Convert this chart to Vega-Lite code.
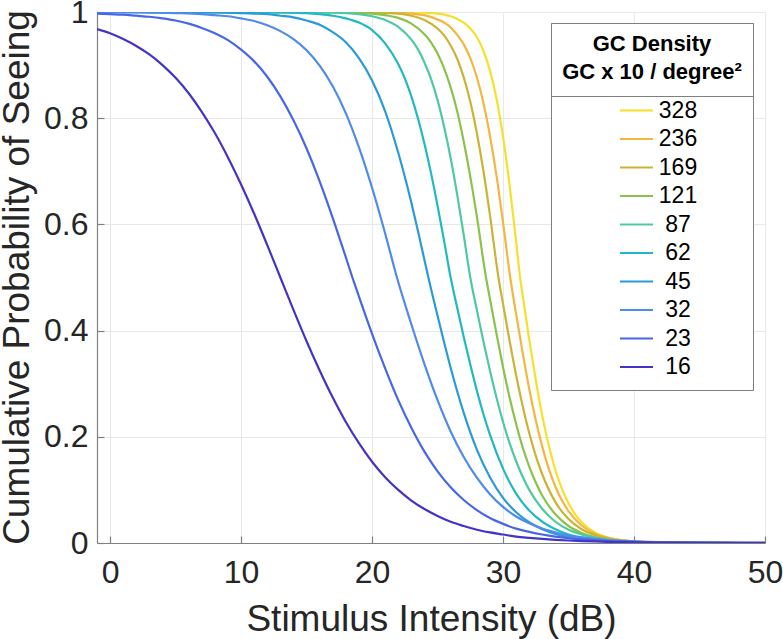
{
  "$schema": "https://vega.github.io/schema/vega-lite/v6.json",
  "width": 668,
  "height": 531,
  "autosize": {"type": "none"},
  "padding": {"left": 97, "top": 12, "right": 18, "bottom": 96},
  "background": "white",
  "config": {"view": {"stroke": null}, "font": "Liberation Sans"},
  "datasets": {
    "curves": [
      {"d":"328","x":-1,"p":1},{"d":"328","x":20,"p":1},{"d":"328","x":22,"p":0.9998},{"d":"328","x":23,"p":0.9995},{"d":"328","x":24,"p":0.9987},{"d":"328","x":25,"p":0.997},{"d":"328","x":26,"p":0.992},{"d":"328","x":26.5,"p":0.987},{"d":"328","x":27,"p":0.980},{"d":"328","x":27.5,"p":0.969},{"d":"328","x":28,"p":0.953},{"d":"328","x":28.5,"p":0.927},{"d":"328","x":29,"p":0.890},{"d":"328","x":29.5,"p":0.837},{"d":"328","x":30,"p":0.765},{"d":"328","x":30.5,"p":0.674},{"d":"328","x":31,"p":0.568},{"d":"328","x":31.3,"p":0.5},{"d":"328","x":31.5,"p":0.466},{"d":"328","x":32,"p":0.383},{"d":"328","x":32.5,"p":0.307},{"d":"328","x":33,"p":0.239},{"d":"328","x":33.5,"p":0.183},{"d":"328","x":34,"p":0.137},{"d":"328","x":34.5,"p":0.102},{"d":"328","x":35,"p":0.075},{"d":"328","x":35.5,"p":0.054},{"d":"328","x":36,"p":0.039},{"d":"328","x":37,"p":0.020},{"d":"328","x":38,"p":0.010},{"d":"328","x":39,"p":0.0053},{"d":"328","x":40,"p":0.0027},{"d":"328","x":42,"p":0.0007},{"d":"328","x":45,"p":0.0001},{"d":"328","x":50,"p":0},

      {"d":"236","x":-1,"p":1},{"d":"236","x":20,"p":0.9997},{"d":"236","x":21,"p":0.9994},{"d":"236","x":22,"p":0.9986},{"d":"236","x":23,"p":0.997},{"d":"236","x":24,"p":0.994},{"d":"236","x":25,"p":0.986},{"d":"236","x":26,"p":0.971},{"d":"236","x":26.5,"p":0.957},{"d":"236","x":27,"p":0.939},{"d":"236","x":27.5,"p":0.913},{"d":"236","x":28,"p":0.877},{"d":"236","x":28.5,"p":0.829},{"d":"236","x":29,"p":0.767},{"d":"236","x":29.5,"p":0.692},{"d":"236","x":30,"p":0.604},{"d":"236","x":30.55,"p":0.5},{"d":"236","x":31,"p":0.431},{"d":"236","x":31.5,"p":0.358},{"d":"236","x":32,"p":0.290},{"d":"236","x":32.5,"p":0.231},{"d":"236","x":33,"p":0.181},{"d":"236","x":33.5,"p":0.139},{"d":"236","x":34,"p":0.106},{"d":"236","x":34.5,"p":0.080},{"d":"236","x":35,"p":0.060},{"d":"236","x":36,"p":0.033},{"d":"236","x":37,"p":0.018},{"d":"236","x":38,"p":0.010},{"d":"236","x":39,"p":0.0054},{"d":"236","x":40,"p":0.0029},{"d":"236","x":42,"p":0.0009},{"d":"236","x":45,"p":0.0001},{"d":"236","x":50,"p":0},

      {"d":"169","x":-1,"p":1},{"d":"169","x":19,"p":0.9996},{"d":"169","x":20,"p":0.9992},{"d":"169","x":21,"p":0.998},{"d":"169","x":22,"p":0.997},{"d":"169","x":23,"p":0.993},{"d":"169","x":24,"p":0.985},{"d":"169","x":25,"p":0.969},{"d":"169","x":25.5,"p":0.956},{"d":"169","x":26,"p":0.937},{"d":"169","x":26.5,"p":0.912},{"d":"169","x":27,"p":0.877},{"d":"169","x":27.5,"p":0.831},{"d":"169","x":28,"p":0.772},{"d":"169","x":28.5,"p":0.701},{"d":"169","x":29,"p":0.618},{"d":"169","x":29.65,"p":0.5},{"d":"169","x":30,"p":0.450},{"d":"169","x":30.5,"p":0.381},{"d":"169","x":31,"p":0.316},{"d":"169","x":31.5,"p":0.258},{"d":"169","x":32,"p":0.207},{"d":"169","x":32.5,"p":0.164},{"d":"169","x":33,"p":0.129},{"d":"169","x":34,"p":0.077},{"d":"169","x":35,"p":0.045},{"d":"169","x":36,"p":0.026},{"d":"169","x":37,"p":0.015},{"d":"169","x":38,"p":0.0085},{"d":"169","x":39,"p":0.0048},{"d":"169","x":40,"p":0.0027},{"d":"169","x":42,"p":0.0009},{"d":"169","x":45,"p":0.0002},{"d":"169","x":50,"p":0},

      {"d":"121","x":-1,"p":1},{"d":"121","x":17,"p":0.9996},{"d":"121","x":19,"p":0.998},{"d":"121","x":20,"p":0.997},{"d":"121","x":21,"p":0.994},{"d":"121","x":22,"p":0.989},{"d":"121","x":23,"p":0.978},{"d":"121","x":24,"p":0.958},{"d":"121","x":24.5,"p":0.943},{"d":"121","x":25,"p":0.922},{"d":"121","x":25.5,"p":0.894},{"d":"121","x":26,"p":0.858},{"d":"121","x":26.5,"p":0.813},{"d":"121","x":27,"p":0.756},{"d":"121","x":27.5,"p":0.690},{"d":"121","x":28,"p":0.615},{"d":"121","x":28.7,"p":0.5},{"d":"121","x":29,"p":0.460},{"d":"121","x":29.5,"p":0.394},{"d":"121","x":30,"p":0.331},{"d":"121","x":30.5,"p":0.274},{"d":"121","x":31,"p":0.224},{"d":"121","x":31.5,"p":0.180},{"d":"121","x":32,"p":0.144},{"d":"121","x":32.5,"p":0.114},{"d":"121","x":33,"p":0.089},{"d":"121","x":34,"p":0.054},{"d":"121","x":35,"p":0.032},{"d":"121","x":36,"p":0.019},{"d":"121","x":37,"p":0.011},{"d":"121","x":38,"p":0.0066},{"d":"121","x":39,"p":0.0038},{"d":"121","x":40,"p":0.0022},{"d":"121","x":42,"p":0.0008},{"d":"121","x":45,"p":0.0001},{"d":"121","x":50,"p":0},

      {"d":"87","x":-1,"p":1},{"d":"87","x":15,"p":0.9997},{"d":"87","x":17,"p":0.9989},{"d":"87","x":18,"p":0.998},{"d":"87","x":19,"p":0.996},{"d":"87","x":20,"p":0.992},{"d":"87","x":21,"p":0.985},{"d":"87","x":22,"p":0.972},{"d":"87","x":23,"p":0.948},{"d":"87","x":23.5,"p":0.930},{"d":"87","x":24,"p":0.905},{"d":"87","x":24.5,"p":0.874},{"d":"87","x":25,"p":0.834},{"d":"87","x":25.5,"p":0.784},{"d":"87","x":26,"p":0.725},{"d":"87","x":26.5,"p":0.656},{"d":"87","x":27,"p":0.580},{"d":"87","x":27.5,"p":0.5},{"d":"87","x":28,"p":0.439},{"d":"87","x":28.5,"p":0.380},{"d":"87","x":29,"p":0.325},{"d":"87","x":29.5,"p":0.274},{"d":"87","x":30,"p":0.228},{"d":"87","x":30.5,"p":0.188},{"d":"87","x":31,"p":0.154},{"d":"87","x":32,"p":0.100},{"d":"87","x":33,"p":0.064},{"d":"87","x":34,"p":0.040},{"d":"87","x":35,"p":0.025},{"d":"87","x":36,"p":0.016},{"d":"87","x":37,"p":0.0097},{"d":"87","x":38,"p":0.0060},{"d":"87","x":39,"p":0.0037},{"d":"87","x":40,"p":0.0022},{"d":"87","x":42,"p":0.0008},{"d":"87","x":45,"p":0.0002},{"d":"87","x":50,"p":0},

      {"d":"62","x":-1,"p":1},{"d":"62","x":10,"p":0.9999},{"d":"62","x":13,"p":0.9993},{"d":"62","x":14,"p":0.9987},{"d":"62","x":15,"p":0.998},{"d":"62","x":16,"p":0.996},{"d":"62","x":17,"p":0.993},{"d":"62","x":18,"p":0.988},{"d":"62","x":19,"p":0.980},{"d":"62","x":20,"p":0.966},{"d":"62","x":21,"p":0.941},{"d":"62","x":22,"p":0.902},{"d":"62","x":22.5,"p":0.875},{"d":"62","x":23,"p":0.841},{"d":"62","x":23.5,"p":0.800},{"d":"62","x":24,"p":0.752},{"d":"62","x":24.5,"p":0.697},{"d":"62","x":25,"p":0.635},{"d":"62","x":25.5,"p":0.569},{"d":"62","x":26,"p":0.5},{"d":"62","x":26.5,"p":0.443},{"d":"62","x":27,"p":0.388},{"d":"62","x":27.5,"p":0.336},{"d":"62","x":28,"p":0.287},{"d":"62","x":28.5,"p":0.243},{"d":"62","x":29,"p":0.204},{"d":"62","x":30,"p":0.140},{"d":"62","x":31,"p":0.093},{"d":"62","x":32,"p":0.061},{"d":"62","x":33,"p":0.040},{"d":"62","x":34,"p":0.026},{"d":"62","x":35,"p":0.016},{"d":"62","x":36,"p":0.0105},{"d":"62","x":37,"p":0.0067},{"d":"62","x":38,"p":0.0043},{"d":"62","x":39,"p":0.0027},{"d":"62","x":40,"p":0.0017},{"d":"62","x":42,"p":0.0007},{"d":"62","x":45,"p":0.0002},{"d":"62","x":50,"p":0},

      {"d":"45","x":-1,"p":1},{"d":"45","x":5,"p":0.9998},{"d":"45","x":8,"p":0.9993},{"d":"45","x":10,"p":0.998},{"d":"45","x":11,"p":0.997},{"d":"45","x":12,"p":0.996},{"d":"45","x":13,"p":0.993},{"d":"45","x":14,"p":0.990},{"d":"45","x":15,"p":0.984},{"d":"45","x":16,"p":0.976},{"d":"45","x":17,"p":0.962},{"d":"45","x":18,"p":0.943},{"d":"45","x":19,"p":0.913},{"d":"45","x":20,"p":0.871},{"d":"45","x":21,"p":0.813},{"d":"45","x":22,"p":0.735},{"d":"45","x":23,"p":0.641},{"d":"45","x":23.5,"p":0.588},{"d":"45","x":24,"p":0.533},{"d":"45","x":24.3,"p":0.5},{"d":"45","x":25,"p":0.428},{"d":"45","x":25.5,"p":0.378},{"d":"45","x":26,"p":0.330},{"d":"45","x":27,"p":0.245},{"d":"45","x":28,"p":0.176},{"d":"45","x":29,"p":0.124},{"d":"45","x":30,"p":0.085},{"d":"45","x":31,"p":0.058},{"d":"45","x":32,"p":0.039},{"d":"45","x":33,"p":0.026},{"d":"45","x":34,"p":0.017},{"d":"45","x":35,"p":0.011},{"d":"45","x":36,"p":0.0076},{"d":"45","x":37,"p":0.0050},{"d":"45","x":38,"p":0.0033},{"d":"45","x":39,"p":0.0022},{"d":"45","x":40,"p":0.0014},{"d":"45","x":42,"p":0.0006},{"d":"45","x":45,"p":0.0002},{"d":"45","x":50,"p":0},

      {"d":"32","x":-1,"p":1},{"d":"32","x":2,"p":0.9994},{"d":"32","x":5,"p":0.998},{"d":"32","x":7,"p":0.996},{"d":"32","x":8,"p":0.994},{"d":"32","x":9,"p":0.992},{"d":"32","x":10,"p":0.988},{"d":"32","x":11,"p":0.983},{"d":"32","x":12,"p":0.975},{"d":"32","x":13,"p":0.964},{"d":"32","x":14,"p":0.949},{"d":"32","x":15,"p":0.928},{"d":"32","x":16,"p":0.899},{"d":"32","x":17,"p":0.860},{"d":"32","x":18,"p":0.809},{"d":"32","x":19,"p":0.745},{"d":"32","x":20,"p":0.669},{"d":"32","x":21,"p":0.583},{"d":"32","x":21.9,"p":0.5},{"d":"32","x":23,"p":0.412},{"d":"32","x":24,"p":0.337},{"d":"32","x":25,"p":0.269},{"d":"32","x":26,"p":0.210},{"d":"32","x":27,"p":0.162},{"d":"32","x":28,"p":0.123},{"d":"32","x":29,"p":0.092},{"d":"32","x":30,"p":0.068},{"d":"32","x":31,"p":0.050},{"d":"32","x":32,"p":0.037},{"d":"32","x":33,"p":0.027},{"d":"32","x":34,"p":0.020},{"d":"32","x":35,"p":0.014},{"d":"32","x":36,"p":0.0105},{"d":"32","x":37,"p":0.0077},{"d":"32","x":38,"p":0.0055},{"d":"32","x":39,"p":0.0040},{"d":"32","x":40,"p":0.0029},{"d":"32","x":42,"p":0.0015},{"d":"32","x":45,"p":0.0006},{"d":"32","x":50,"p":0.0001},

      {"d":"23","x":-1,"p":0.997},{"d":"23","x":0,"p":0.996},{"d":"23","x":1,"p":0.995},{"d":"23","x":2,"p":0.993},{"d":"23","x":3,"p":0.991},{"d":"23","x":4,"p":0.988},{"d":"23","x":5,"p":0.984},{"d":"23","x":6,"p":0.978},{"d":"23","x":7,"p":0.970},{"d":"23","x":8,"p":0.960},{"d":"23","x":9,"p":0.947},{"d":"23","x":10,"p":0.929},{"d":"23","x":11,"p":0.907},{"d":"23","x":12,"p":0.878},{"d":"23","x":13,"p":0.841},{"d":"23","x":14,"p":0.796},{"d":"23","x":15,"p":0.743},{"d":"23","x":16,"p":0.681},{"d":"23","x":17,"p":0.612},{"d":"23","x":18,"p":0.538},{"d":"23","x":18.5,"p":0.5},{"d":"23","x":19,"p":0.464},{"d":"23","x":20,"p":0.394},{"d":"23","x":21,"p":0.329},{"d":"23","x":22,"p":0.269},{"d":"23","x":23,"p":0.217},{"d":"23","x":24,"p":0.172},{"d":"23","x":25,"p":0.135},{"d":"23","x":26,"p":0.105},{"d":"23","x":27,"p":0.081},{"d":"23","x":28,"p":0.062},{"d":"23","x":29,"p":0.047},{"d":"23","x":30,"p":0.036},{"d":"23","x":31,"p":0.027},{"d":"23","x":32,"p":0.021},{"d":"23","x":33,"p":0.016},{"d":"23","x":34,"p":0.012},{"d":"23","x":35,"p":0.009},{"d":"23","x":36,"p":0.0067},{"d":"23","x":37,"p":0.0051},{"d":"23","x":38,"p":0.0038},{"d":"23","x":39,"p":0.0029},{"d":"23","x":40,"p":0.0021},{"d":"23","x":42,"p":0.0012},{"d":"23","x":45,"p":0.0005},{"d":"23","x":50,"p":0.0001},

      {"d":"16","x":-1,"p":0.968},{"d":"16","x":0,"p":0.960},{"d":"16","x":1,"p":0.949},{"d":"16","x":2,"p":0.936},{"d":"16","x":3,"p":0.920},{"d":"16","x":4,"p":0.900},{"d":"16","x":5,"p":0.876},{"d":"16","x":6,"p":0.847},{"d":"16","x":7,"p":0.812},{"d":"16","x":8,"p":0.772},{"d":"16","x":9,"p":0.726},{"d":"16","x":10,"p":0.675},{"d":"16","x":11,"p":0.620},{"d":"16","x":12,"p":0.561},{"d":"16","x":13,"p":0.5},{"d":"16","x":14,"p":0.439},{"d":"16","x":15,"p":0.380},{"d":"16","x":16,"p":0.325},{"d":"16","x":17,"p":0.274},{"d":"16","x":18,"p":0.228},{"d":"16","x":19,"p":0.188},{"d":"16","x":20,"p":0.153},{"d":"16","x":21,"p":0.124},{"d":"16","x":22,"p":0.100},{"d":"16","x":23,"p":0.080},{"d":"16","x":24,"p":0.064},{"d":"16","x":25,"p":0.051},{"d":"16","x":26,"p":0.040},{"d":"16","x":27,"p":0.032},{"d":"16","x":28,"p":0.025},{"d":"16","x":29,"p":0.020},{"d":"16","x":30,"p":0.016},{"d":"16","x":31,"p":0.012},{"d":"16","x":32,"p":0.0096},{"d":"16","x":33,"p":0.0076},{"d":"16","x":34,"p":0.0060},{"d":"16","x":35,"p":0.0047},{"d":"16","x":36,"p":0.0037},{"d":"16","x":37,"p":0.0029},{"d":"16","x":38,"p":0.0022},{"d":"16","x":39,"p":0.0018},{"d":"16","x":40,"p":0.0014},{"d":"16","x":42,"p":0.0009},{"d":"16","x":45,"p":0.0004},{"d":"16","x":50,"p":0.0001}
    ]
  },
  "data": {"name": "curves"},
  "mark": {"type": "line", "interpolate": "monotone", "strokeWidth": 2.2, "clip": true},
  "encoding": {
    "x": {
      "field": "x", "type": "quantitative",
      "scale": {"domain": [-1, 50], "nice": false, "zero": false},
      "axis": {
        "title": "Stimulus Intensity (dB)",
        "values": [0, 10, 20, 30, 40, 50],
        "format": "d",
        "grid": true, "gridColor": "#e8e8e8", "gridWidth": 1,
        "domainColor": "#808080", "domainWidth": 1.2,
        "tickColor": "#808080", "tickWidth": 1.2, "tickSize": -7,
        "labelFont": "Liberation Sans", "labelFontSize": 32, "labelColor": "#262626",
        "labelPadding": 21, "labelFlush": false,
        "titleFont": "Liberation Sans", "titleFontSize": 37, "titleFontWeight": "normal", "titleColor": "#262626",
        "titleY": 87, "titleBaseline": "alphabetic"
      }
    },
    "y": {
      "field": "p", "type": "quantitative",
      "scale": {"domain": [0, 1], "nice": false},
      "axis": {
        "title": "Cumulative Probability of Seeing",
        "values": [0, 0.2, 0.4, 0.6, 0.8, 1],
        "format": ".1~f",
        "grid": true, "gridColor": "#e8e8e8", "gridWidth": 1,
        "domainColor": "#808080", "domainWidth": 1.2,
        "tickColor": "#808080", "tickWidth": 1.2, "tickSize": -7,
        "labelFont": "Liberation Sans", "labelFontSize": 32, "labelColor": "#262626",
        "labelPadding": 16,
        "titleFont": "Liberation Sans", "titleFontSize": 37, "titleFontWeight": "normal", "titleColor": "#262626",
        "titleX": -69, "titleY": 265, "titleBaseline": "alphabetic", "titleAlign": "center"
      }
    },
    "color": {
      "field": "d", "type": "nominal",
      "scale": {
        "domain": ["328", "236", "169", "121", "87", "62", "45", "32", "23", "16"],
        "range": ["#f7e02c", "#f3b740", "#cdb334", "#8bc34a", "#4fc9a2", "#21b8c4", "#2a9bd9", "#4f8be8", "#4866e6", "#4434c6"]
      },
      "legend": {
        "title": ["GC Density", "GC x 10 / degree²"],
        "orient": "none", "legendX": 454, "legendY": 11,
        "strokeColor": "#7f7f7f", "fillColor": "white", "padding": 11,
        "titleFont": "Liberation Sans", "titleFontSize": 22, "titleFontWeight": "bold", "titleColor": "#000000",
        "titleLineHeight": 28, "titleAnchor": "middle", "titleAlign": "center", "titlePadding": 12,
        "labelFont": "Liberation Sans", "labelFontSize": 23, "labelColor": "#000000",
        "labelAlign": "center", "labelOffset": 27,
        "symbolType": "M-1.27,0L1.27,0", "symbolSize": 676, "symbolStrokeWidth": 2.2, "symbolOffset": 16,
        "rowPadding": 1.5
      }
    },
    "opacity": {
      "datum": "all", "type": "ordinal",
      "scale": {"range": [1, 1]},
      "legend": {
        "title": ["GC Density", "GC x 10 / degree²"],
        "orient": "none", "legendX": 454, "legendY": 11,
        "strokeColor": "#7f7f7f", "fillColor": "white", "padding": 11,
        "titleFont": "Liberation Sans", "titleFontSize": 22, "titleFontWeight": "bold", "titleColor": "#000000",
        "titleLineHeight": 28, "titleAnchor": "middle", "titleAlign": "center", "titlePadding": 0,
        "labelFontSize": 1, "labelOpacity": 0, "labelLimit": 1,
        "symbolSize": 0, "symbolStrokeWidth": 0, "symbolOpacity": 0, "rowPadding": 0
      }
    }
  }
}
